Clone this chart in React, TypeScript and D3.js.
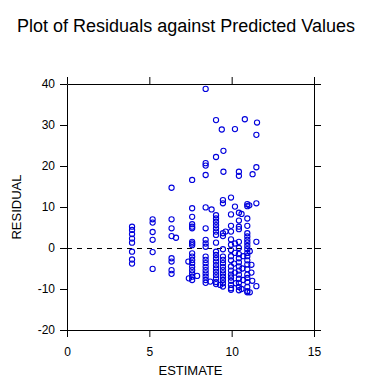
import React, { useEffect, useRef } from "react";
import * as d3 from "d3";

const title = "Plot of Residuals against Predicted Values";
const xLabel = "ESTIMATE";
const yLabel = "RESIDUAL";
const xTicks = [0, 5, 10, 15];
const yTicks = [-20, -10, 0, 10, 20, 30, 40];

// [estimate, residual], grouped by column
const col39 = [[3.95, 5.2], [3.95, 4.4], [3.95, 3.4], [3.95, 2.3], [3.95, 1.3], [3.95, -0.9], [3.95, -2.8], [3.95, -3.8]];
const col52 = [[5.2, 7.0], [5.2, 6.2], [5.2, 3.9], [5.2, 2.0], [5.2, -1.0], [5.2, -5.1]];
const col63 = [[6.35, 14.7], [6.35, 7.0], [6.35, 4.8], [6.35, 2.9], [6.62, 2.5], [6.35, -2.5], [6.35, -3.3], [6.35, -5.4], [6.35, -6.3]];
const col76 = [
  [7.6, 16.6], [7.6, 9.7], [7.6, 7.6], [7.6, 5.8], [7.6, 5.2], [7.6, 4.8], [7.6, 1.5], [7.6, 1.1], [7.6, 0.7],
  [7.6, -1.3], [7.6, -2.1], [7.6, -2.9], [7.6, -3.7], [7.6, -4.6], [7.6, -5.4], [7.6, -6.2], [7.6, -7.0], [7.6, -7.8],
  [7.4, -7.4], [7.9, -6.8], [7.37, -3.3]
];
const col84 = [
  [8.42, 38.8], [8.42, 20.7], [8.42, 20.1], [8.42, 17.8], [8.42, 9.9], [8.78, 9.4], [8.42, 4.8], [8.42, 2.0], [8.42, 1.1], [8.42, 0.3],
  [8.42, -2.1], [8.42, -2.9], [8.42, -3.7], [8.42, -4.6], [8.42, -5.4], [8.42, -6.2], [8.42, -7.0], [8.42, -7.8], [8.42, -8.5], [8.7, -8.2]
];
const col90 = [
  [9.05, 31.2], [9.05, 22.2], [9.05, 8.0], [9.05, 7.2], [9.05, 6.4], [9.05, 5.6], [9.05, 4.8], [9.05, 4.0], [9.05, 3.2], [9.05, 1.3],
  [9.05, -0.9], [9.05, -1.7], [9.05, -2.5], [9.05, -3.3], [9.05, -4.2], [9.05, -5.0], [9.05, -5.8], [9.05, -6.6], [9.05, -7.4], [9.05, -8.3], [9.05, -8.8]
];
const col94 = [
  [9.4, 28.9], [9.5, 23.7], [9.5, 18.6], [9.47, 11.7], [9.47, 10.9], [9.47, 3.6], [9.63, 4.0], [9.47, 2.9], [9.47, -0.3],
  [9.47, -2.1], [9.47, -2.9], [9.47, -3.7], [9.47, -4.6], [9.47, -5.4], [9.47, -6.2], [9.47, -7.0], [9.47, -7.8], [9.47, -8.6], [9.47, -9.4], [9.3, -9.0]
];
const col99 = [
  [9.96, 12.3], [9.96, 8.2], [9.96, 5.4], [9.96, 4.0], [9.96, 2.1], [9.96, 0.8], [9.96, -0.5], [9.96, -2.0], [9.96, -3.0], [9.96, -4.5],
  [9.96, -5.5], [9.96, -6.5], [9.96, -7.2], [9.96, -8.0], [9.96, -9.0], [9.96, -9.8], [9.96, -10.2],
  [10.2, 29.0], [10.2, 10.1], [10.2, 1.1], [10.2, -1.2], [10.15, -3.8], [10.2, -6.0], [10.25, -8.6]
];
const col104 = [
  [10.44, 18.6], [10.44, 17.6], [10.44, 8.6], [10.44, 6.7], [10.44, 5.2], [10.44, 4.6], [10.44, 1.5], [10.44, 0.0], [10.44, -1.5],
  [10.44, -2.5], [10.44, -3.5], [10.44, -4.5], [10.44, -5.5], [10.44, -6.5], [10.44, -7.5], [10.44, -8.5], [10.44, -9.5], [10.44, -10.3],
  [10.6, 8.3], [10.7, -2.0], [10.65, -5.0], [10.7, -7.8], [10.6, -10.0]
];
const col109 = [
  [10.8, 31.4], [10.95, 10.7], [10.95, 10.2], [11.07, 10.4], [10.95, 7.2], [10.95, 5.4], [10.95, 3.6], [10.95, 2.8], [10.95, 2.0], [10.95, 1.3],
  [10.95, 0.5], [10.95, -0.3], [10.95, -1.2], [10.95, -2.0], [10.95, -3.0], [10.95, -4.0], [10.95, -5.2], [10.95, -6.5], [10.95, -7.3],
  [10.95, -8.3], [10.95, -9.5], [10.95, -10.5], [10.95, -10.8], [11.1, -0.8], [11.1, -10.8], [11.2, -4.1], [11.2, -6.0], [11.25, -8.0], [11.27, 18.0]
];
const col115 = [[11.54, 30.6], [11.5, 27.6], [11.5, 19.7], [11.5, 10.9], [11.5, 1.5], [11.5, -9.3]];

const points = [...col39, ...col52, ...col63, ...col76, ...col84, ...col90, ...col94, ...col99, ...col104, ...col109, ...col115];

const W = 366, H = 384;
const FONT = "Arial, 'Liberation Sans', sans-serif";

export default function App() {
  const ref = useRef<SVGSVGElement>(null);

  useEffect(() => {
    const svg = d3.select(ref.current);
    svg.selectAll("*").remove();

    const x = d3.scaleLinear().domain([0, 15]).range([67, 314]);
    const y = d3.scaleLinear().domain([-20, 40]).range([330, 84]);

    svg.append("rect").attr("width", W).attr("height", H).attr("fill", "#fff");

    svg.append("text")
      .attr("x", 186).attr("y", 32)
      .attr("text-anchor", "middle")
      .style("font", `18px ${FONT}`)
      .text(title);

    const noLabel = () => "";
    const style = (g: any, size: number) => {
      g.attr("font-family", FONT).attr("font-size", size);
      g.selectAll("text").attr("fill", "#000");
      g.selectAll("line, path").attr("stroke", "#000");
    };

    svg.append("g").attr("transform", `translate(0,${y(-20)})`)
      .call(d3.axisBottom(x).tickValues(xTicks).tickSize(7).tickSizeOuter(0).tickPadding(10).tickFormat(d => String(d)))
      .call(g => style(g, 12));
    svg.append("g").attr("transform", `translate(0,${y(40)})`)
      .call(d3.axisTop(x).tickValues(xTicks).tickSize(7).tickSizeOuter(0).tickFormat(noLabel))
      .call(g => style(g, 12));
    svg.append("g").attr("transform", `translate(${x(0)},0)`)
      .call(d3.axisLeft(y).tickValues(yTicks).tickSize(7).tickSizeOuter(0).tickPadding(5).tickFormat(d => String(d)))
      .call(g => style(g, 12));
    svg.append("g").attr("transform", `translate(${x(15)},0)`)
      .call(d3.axisRight(y).tickValues(yTicks).tickSize(7).tickSizeOuter(0).tickFormat(noLabel))
      .call(g => style(g, 12));

    // reference line at zero
    svg.append("line")
      .attr("x1", x(0)).attr("x2", x(15))
      .attr("y1", Math.round(y(0)) + 0.5).attr("y2", Math.round(y(0)) + 0.5)
      .attr("stroke", "#000").attr("stroke-dasharray", "5,5");

    svg.append("g").selectAll("circle")
      .data(points)
      .join("circle")
      .attr("cx", d => x(d[0]))
      .attr("cy", d => y(d[1]))
      .attr("r", 2.6)
      .attr("fill", "none")
      .attr("stroke", "#0000dd")
      .attr("stroke-width", 1.1);

    svg.append("text")
      .attr("x", (x(0) + x(15)) / 2).attr("y", 375)
      .attr("text-anchor", "middle")
      .style("font", `13px ${FONT}`)
      .text(xLabel);

    svg.append("text")
      .attr("transform", `translate(21,${(y(-20) + y(40)) / 2}) rotate(-90)`)
      .attr("text-anchor", "middle")
      .style("font", `13px ${FONT}`)
      .text(yLabel);
  }, []);

  return (
    <div style={{ position: "absolute", left: 0, top: 0 }}>
      <svg ref={ref} width={W} height={H} style={{ display: "block" }} />
    </div>
  );
}
